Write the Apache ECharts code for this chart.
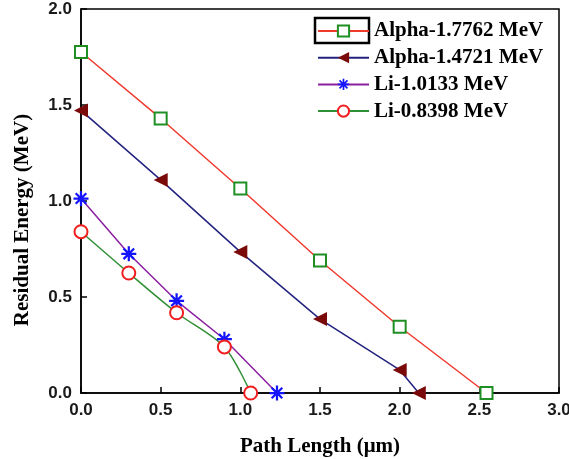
<!DOCTYPE html>
<html>
<head>
<meta charset="utf-8">
<script src="https://cdn.jsdelivr.net/npm/echarts@6/dist/echarts.min.js"></script>
<style>
  html, body { margin: 0; padding: 0; background: #fff; }
  #chart { width: 569px; height: 459px; }
</style>
</head>
<body>
<div id="chart"></div>
<script>
var seriesNames = ['Alpha-1.7762 MeV', 'Alpha-1.4721 MeV', 'Li-1.0133 MeV', 'Li-0.8398 MeV'];

// [path length (um), residual energy (MeV)]
var alpha17762 = [[0, 1.776], [0.5, 1.43], [1.0, 1.065], [1.5, 0.69], [2.0, 0.345], [2.545, 0]];
var alpha14721 = [[0, 1.472], [0.5, 1.11], [1.0, 0.735], [1.5, 0.385], [2.0, 0.12], [2.12, 0]];
var li10133 = [[0, 1.013], [0.3, 0.725], [0.6, 0.48], [0.9, 0.28], [1.23, 0]];
var li08398 = [[0, 0.84], [0.3, 0.625], [0.6, 0.418], [0.9, 0.24], [1.065, 0]];

var xTicks = [0, 0.5, 1.0, 1.5, 2.0, 2.5, 3.0];
var yTicks = [0, 0.5, 1.0, 1.5, 2.0];

var asterisk = 'path://M-10,-1.5L10,-1.5L10,1.5L-10,1.5Z' +
    'M-1.5,-10L1.5,-10L1.5,10L-1.5,10Z' +
    'M-6.01,-8.13L8.13,6.01L6.01,8.13L-8.13,-6.01Z' +
    'M-8.13,6.01L6.01,-8.13L8.13,-6.01L-6.01,8.13Z';

var serifBold = {
    fontFamily: 'Liberation Serif',
    fontWeight: 'bold',
    fontSize: 21,
    lineHeight: 22,
    color: '#000'
};

var tickLabel = {
    margin: 9,
    fontFamily: 'Liberation Sans',
    fontWeight: 'bold',
    fontSize: 17,
    color: '#1a1a1a',
    formatter: function (v) { return v.toFixed(1); }
};

var myChart = echarts.init(document.getElementById('chart'));

option = {
    backgroundColor: '#fff',
    animation: false,
    grid: {
        left: 81,
        right: 10,
        top: 9,
        bottom: 66,
        outerBoundsMode: 'none',
        containLabel: false,
        show: true,
        borderColor: '#000',
        borderWidth: 1.5
    },
    legend: {
        orient: 'vertical',
        left: 317,
        top: 20,
        padding: 0,
        itemWidth: 51,
        itemHeight: 14,
        itemGap: 4.7,
        textStyle: serifBold,
        data: seriesNames
    },
    graphic: [{
        type: 'rect',
        shape: { x: 315, y: 18, width: 54, height: 25 },
        style: { fill: 'none', stroke: '#000', lineWidth: 2.5 }
    }, {
        type: 'text',
        x: 23,
        y: 220,
        rotation: Math.PI / 2,
        style: {
            text: 'Residual Energy (MeV)',
            fontFamily: 'Liberation Serif',
            fontWeight: 'bold',
            fontSize: 21,
            fill: '#000',
            align: 'center',
            verticalAlign: 'middle'
        }
    }],
    xAxis: {
        type: 'value',
        min: 0,
        max: 3,
        interval: 0.5,
        name: 'Path Length (\u03bcm)',
        nameLocation: 'middle',
        nameGap: 43,
        nameTextStyle: serifBold,
        axisLine: { lineStyle: { color: '#000', width: 1.5 } },
        axisTick: { inside: true, length: 6, lineStyle: { color: '#000', width: 1.5 } },
        splitLine: { show: false },
        axisLabel: tickLabel
    },
    yAxis: {
        type: 'value',
        min: 0,
        max: 2,
        interval: 0.5,
        axisLine: { show: true, lineStyle: { color: '#000', width: 1.5 } },
        axisTick: { show: true, inside: true, length: 6, lineStyle: { color: '#000', width: 1.5 } },
        splitLine: { show: false },
        axisLabel: tickLabel
    },
    series: [{
        name: seriesNames[0],
        type: 'line',
        data: alpha17762,
        symbol: 'rect',
        symbolSize: 12,
        lineStyle: { color: '#f03a2e', width: 1.5 },
        itemStyle: { color: '#fff', borderColor: '#1f8f24', borderWidth: 2 },
        z: 3
    }, {
        name: seriesNames[1],
        type: 'line',
        data: alpha14721,
        symbol: 'triangle',
        symbolRotate: 90,
        symbolSize: 14,
        lineStyle: { color: '#23237f', width: 1.5 },
        itemStyle: { color: '#7a0a0a' },
        z: 3
    }, {
        name: seriesNames[2],
        type: 'line',
        data: li10133,
        symbol: asterisk,
        symbolSize: 15,
        lineStyle: { color: '#8a1fa0', width: 1.5 },
        itemStyle: { color: '#1414ff' },
        z: 3
    }, {
        name: seriesNames[3],
        type: 'line',
        data: li08398,
        smooth: 0.3,
        symbol: 'circle',
        symbolSize: 13,
        lineStyle: { color: '#2f8f34', width: 1.5 },
        itemStyle: { color: '#fff', borderColor: '#f01e1e', borderWidth: 2 },
        z: 3
    }]
};

myChart.setOption(option);
</script>
</body>
</html>
